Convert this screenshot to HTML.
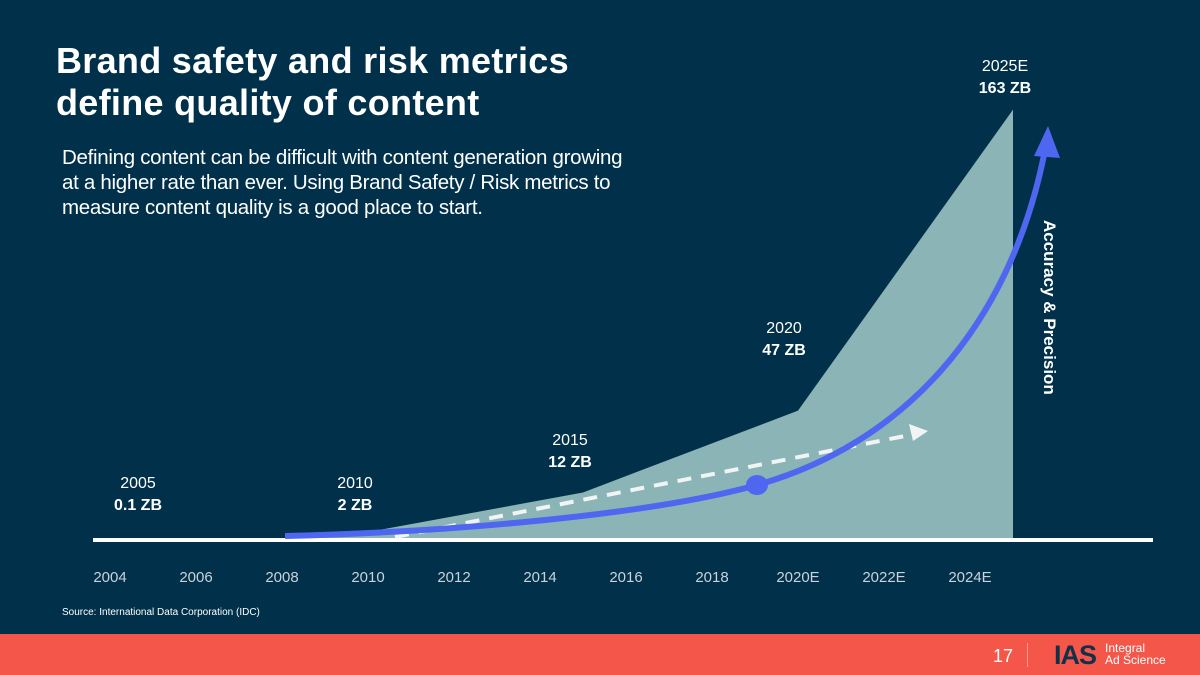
<!DOCTYPE html>
<html><head><meta charset="utf-8"><style>
body{margin:0;width:1200px;height:675px;overflow:hidden;background:#01304a;font-family:"Liberation Sans",sans-serif;position:relative}
.t{position:absolute;color:#fff}
</style></head><body>
<div class="t" style="left:56px;top:40px;font-size:36px;font-weight:bold;line-height:42px;letter-spacing:0.3px">Brand safety and risk metrics<br>define quality of content</div>
<div class="t" style="left:62px;top:145px;font-size:20.5px;line-height:25px;letter-spacing:-0.3px">Defining content can be difficult with content generation growing<br>at a higher rate than ever. Using Brand Safety / Risk metrics to<br>measure content quality is a good place to start.</div>
<svg id="chart" width="1200" height="634" style="position:absolute;left:0;top:0"></svg>
<div class="t" style="left:62px;top:607px;font-size:10px">Source: International Data Corporation (IDC)</div>
<div style="position:absolute;left:0;top:634px;width:1200px;height:41px;background:#f4574a">
 <div class="t" style="left:993px;top:12px;font-size:18px">17</div>
 <div style="position:absolute;left:1027px;top:9px;width:1px;height:24px;background:#f8a097"></div>
 <div style="position:absolute;left:1054px;top:6px;font-size:27px;font-weight:bold;color:#12304a;letter-spacing:-1px">IAS</div>
 <div class="t" style="left:1105px;top:8px;font-size:12px;line-height:12px">Integral<br>Ad Science</div>
</div>
<script>
const years=[2008,2010,2015,2020,2025];
const volume=[0,3,18,49,163];
const tickLabels=["2004","2006","2008","2010","2012","2014","2016","2018","2020E","2022E","2024E"];
const tickYears=[2004,2006,2008,2010,2012,2014,2016,2018,2020,2022,2024];
const callTop=["2005","2010","2015","2020","2025E"];
const callBot=["0.1 ZB","2 ZB","12 ZB","47 ZB","163 ZB"];
const NS="http://www.w3.org/2000/svg";
const svg=document.getElementById('chart');
const X=y=>110+(y-2004)*43;
const Y=v=>540-v*2.64;
const labelX=[138,355,570,784,1005];
const labelY=[510,510,467,355,93];
function mk(t,a){const e=document.createElementNS(NS,t);for(const k in a)e.setAttribute(k,a[k]);svg.appendChild(e);return e;}
let d=years.map((y,i)=>(i?'L':'M')+X(y)+','+Y(volume[i])).join(' ')+' L'+X(2025)+',540 Z';
const area=mk('path',{d:d,fill:'#8ab4b6'});


const base=mk('rect',{x:93,y:538,width:1060,height:4,fill:'#fff'});


tickYears.forEach((y,i)=>{const t=mk('text',{x:X(y),y:582,fill:'#c9d3da','font-size':15,'text-anchor':'middle'});t.textContent=tickLabels[i];

});
callTop.forEach((s,i)=>{const cx=labelX[i],cy=labelY[i];
const a=mk('text',{x:cx,y:cy-22,fill:'#fff','font-size':16,'text-anchor':'middle'});a.textContent=s;


const b=mk('text',{x:cx,y:cy,fill:'#fff','font-size':16,'font-weight':'bold','text-anchor':'middle'});b.textContent=callBot[i];

});
const dash=mk('path',{d:'M395,537 L915,434',stroke:'#f0f4f4','stroke-width':4,'stroke-dasharray':'14,10',fill:'none'});


const dh=mk('path',{d:'M928,431 L909,424 L913,441 Z',fill:'#f0f4f4'});


const cv=mk('path',{d:'M285,536 C450,532 650,515 757,485 C900,445 1010,330 1045,150',stroke:'#4f66f0','stroke-width':6,fill:'none'});


const ch=mk('path',{d:'M1048,126 L1034,156 L1060,158 Z',fill:'#4f66f0'});


const dot=mk('ellipse',{cx:757,cy:485,rx:11,ry:10,fill:'#4f66f0'});


const lab=mk('text',{x:0,y:0,fill:'#fff','font-size':17,'font-weight':'bold',transform:'translate(1044,220) rotate(90)'});lab.textContent='Accuracy  & Precision';


</script>
</body></html>
